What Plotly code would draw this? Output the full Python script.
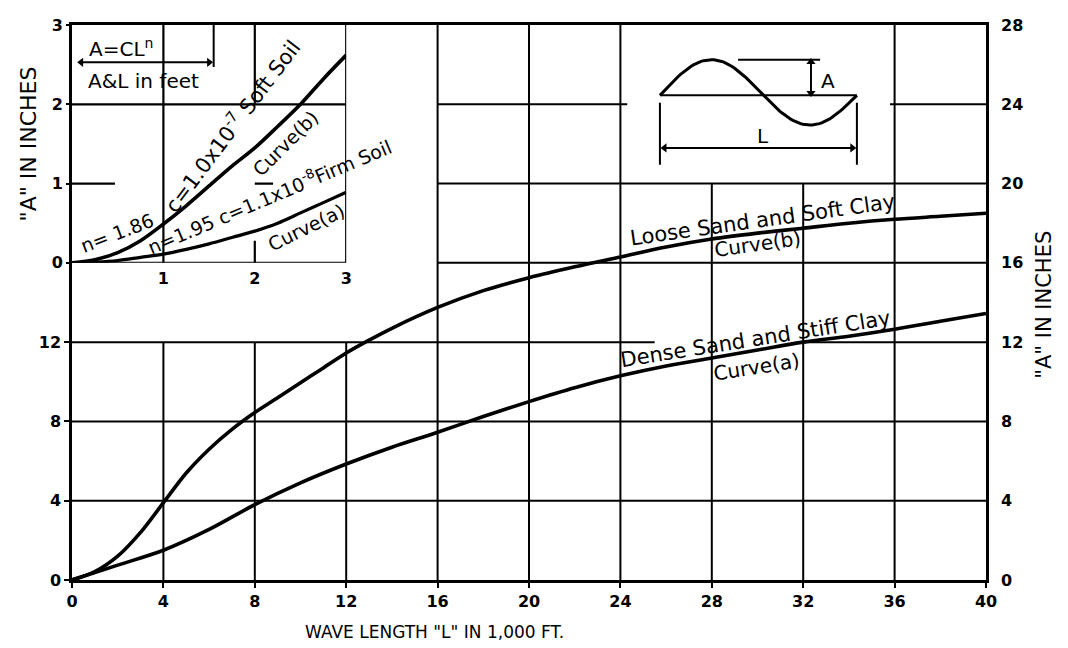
import numpy as np
import plotly.graph_objects as go

# ---------------- data ----------------
# Main chart: wave length L (1,000 ft) vs A (inches)
L_b = [0, 1, 2, 3, 4, 5, 6, 7, 8, 9, 10, 11, 12, 13, 14, 16, 18, 20, 22, 24, 26, 28, 30, 32, 34, 36, 38, 40]
A_b = [0, 0.42, 1.2, 2.4, 3.9, 5.4, 6.6, 7.6, 8.45, 9.2, 9.95, 10.7, 11.45, 12.1, 12.7, 13.75, 14.6, 15.25,
       15.8, 16.3, 16.8, 17.2, 17.5, 17.75, 18.0, 18.2, 18.35, 18.5]
L_a = [0, 2, 4, 6, 8, 10, 12, 14, 16, 18, 20, 22, 24, 26, 28, 30, 32, 34, 36, 38, 40]
A_a = [0, 0.75, 1.5, 2.55, 3.8, 4.9, 5.85, 6.7, 7.45, 8.25, 9.0, 9.7, 10.3, 10.8, 11.2, 11.6, 12.0, 12.3,
       12.65, 13.05, 13.45]

# Inset: small wave lengths (1,000 ft) vs A (inches)
inset_L = [0, 0.25, 0.5, 0.75, 1, 1.25, 1.5, 1.75, 2, 2.25, 2.5, 2.75, 3]
inset_A_b = [0, 0.04, 0.13, 0.28, 0.49, 0.72, 0.97, 1.22, 1.45, 1.72, 2.0, 2.32, 2.62]
inset_A_a = [0, 0.01, 0.03, 0.07, 0.11, 0.17, 0.24, 0.32, 0.40, 0.50, 0.63, 0.76, 0.89]

# Tick labels
x_ticks = list(range(0, 41, 4))
y_left_ticks = [0, 4, 8, 12]
y_right_ticks = list(range(0, 29, 4))
inset_x_ticks = [1, 2, 3]
inset_y_ticks = [0, 1, 2, 3]

FONT = "DejaVu Sans"
BLACK = "black"

fig = go.Figure()

curve_line = dict(color=BLACK, width=3.6, shape="spline", smoothing=0.9)
fig.add_trace(go.Scatter(x=L_b, y=A_b, mode="lines", line=curve_line, xaxis="x", yaxis="y",
                         name="Loose Sand and Soft Clay", hoverinfo="x+y"))
fig.add_trace(go.Scatter(x=L_a, y=A_a, mode="lines", line=curve_line, xaxis="x", yaxis="y3",
                         name="Dense Sand and Stiff Clay", hoverinfo="x+y"))
fig.add_trace(go.Scatter(x=inset_L, y=inset_A_b, mode="lines", line=curve_line, xaxis="x2", yaxis="y2",
                         name="Soft Soil", hoverinfo="x+y"))
fig.add_trace(go.Scatter(x=inset_L, y=inset_A_a, mode="lines",
                         line=dict(color=BLACK, width=3.2, shape="spline", smoothing=0.9),
                         xaxis="x2", yaxis="y2", name="Firm Soil", hoverinfo="x+y"))

# ---- wave schematic (upper right) ----
w_x0, w_xm, w_x1 = 25.73, 30.24, 34.35
w_base, w_up, w_dn = 24.45, 1.8, 1.5
t1 = np.linspace(0, 1, 41)
wx = np.concatenate([w_x0 + (w_xm - w_x0) * t1, w_xm + (w_x1 - w_xm) * t1[1:]])
wy = np.concatenate([w_base + w_up * np.sin(np.pi * t1), w_base - w_dn * np.sin(np.pi * t1[1:])])
fig.add_trace(go.Scatter(x=wx, y=wy, mode="lines", line=dict(color=BLACK, width=3), xaxis="x", yaxis="y",
                         hoverinfo="skip"))


def dim_line(xs, ys, symbols, xaxis="x", yaxis="y"):
    fig.add_trace(go.Scatter(x=xs, y=ys, mode="lines+markers", xaxis=xaxis, yaxis=yaxis, hoverinfo="skip",
                             line=dict(color=BLACK, width=2),
                             marker=dict(symbol=symbols, size=8, color=BLACK)))


dim_line([32.34, 32.34], [w_base + 0.12, w_base + w_up - 0.12], ["triangle-down", "triangle-up"])
dim_line([w_x0 + 0.2, w_x1 - 0.2], [21.8, 21.8], ["triangle-left", "triangle-right"])
dim_line([0.1, 1.5], [2.53, 2.53], ["triangle-left", "triangle-right"], "x2", "y2")

shapes = []


def seg(x0, y0, x1, y1, xref="x", yref="y", w=2, layer="below"):
    shapes.append(dict(type="line", x0=x0, y0=y0, x1=x1, y1=y1, xref=xref, yref=yref,
                       line=dict(color=BLACK, width=w), layer=layer))


# main grid (vertical): value -> list of (y0, y1)
v_grid = {4: [(0, 12)], 8: [(0, 12)], 12: [(0, 12)], 16: [(0, 28)], 20: [(0, 28)], 24: [(0, 28)],
          28: [(0, 20)], 32: [(0, 20)], 36: [(0, 28)]}
h_grid = {4: [(0, 40)], 8: [(0, 40)], 12: [(0, 25.5), (32, 40)], 16: [(16, 40)], 20: [(16, 40)],
          24: [(16, 24.3), (35.8, 40)]}
for xv, spans in v_grid.items():
    for a, b in spans:
        seg(xv, a, xv, b)
for yv, spans in h_grid.items():
    for a, b in spans:
        seg(a, yv, b, yv)

# inset grid and border
iv_grid = {1: [(0, 3)], 2: [(2, 3), (0, 0.28)], 3: [(0, 3)]}
ih_grid = {0: [(0, 3)], 1: [(0, 0.47), (2.0, 2.2)], 2: [(0, 3)]}
for xv, spans in iv_grid.items():
    for a, b in spans:
        seg(xv, a, xv, b, "x2", "y2", 2.2)
for yv, spans in ih_grid.items():
    for a, b in spans:
        seg(a, yv, b, yv, "x2", "y2", 2.2)
# formula box
seg(1.55, 2.47, 1.55, 3, "x2", "y2", 2)

# wave schematic lines
seg(w_x0, w_base, w_x1, w_base, w=2, layer="above")
seg(29.15, w_base + w_up, 32.74, w_base + w_up, w=2, layer="above")
seg(w_x0, 20.95, w_x0, 24.08, w=2, layer="above")
seg(w_x1, 20.95, w_x1, 24.08, w=2, layer="above")

annotations = []


def text(x, y, s, size=19, angle=0, xref="x", yref="y"):
    annotations.append(dict(x=x, y=y, xref=xref, yref=yref, text=s, showarrow=False, textangle=angle,
                            font=dict(family=FONT, size=size, color=BLACK), xanchor="center",
                            yanchor="middle"))


# wave schematic labels
text(33.1, 25.2, "A", 20)
text(30.24, 22.4, "L", 20)

# inset formula box
text(0.54, 2.71, "A=CL<sup>n</sup>", 20, 0, "x2", "y2")
text(0.78, 2.30, "A&L in feet", 20, 0, "x2", "y2")

# inset labels
text(0.49, 0.38, "n= 1.86", 19, -21, "x2", "y2")
text(1.74, 1.73, "c=1.0x10<sup>-7</sup> Soft Soil", 21, -53, "x2", "y2")
text(2.34, 1.51, "Curve(b)", 19, -45, "x2", "y2")
text(2.16, 0.84, "n=1.95 c=1.1x10<sup>-8</sup>Firm Soil", 19, -23, "x2", "y2")
text(2.57, 0.45, "Curve(a)", 19, -26, "x2", "y2")

# main labels
text(30.2, 18.15, "Loose Sand and Soft Clay", 21, -8)
text(30.0, 16.95, "Curve(b)", 20, -8)
text(29.9, 12.15, "Dense Sand and Stiff Clay", 21, -9)
text(29.95, 10.75, "Curve(a)", 20, -9)

# axis titles
text(0.397, -0.094, "WAVE LENGTH \"L\" IN 1,000 FT.", 17, 0, "paper", "paper")
text(-0.048, 0.785, "\"A\" IN INCHES", 22, -90, "paper", "paper")
text(1.064, 0.497, "\"A\" IN INCHES", 21, -90, "paper", "paper")

tickfont = dict(family=FONT, size=16, color=BLACK, weight="bold")

# page body adds an 8px margin: shrink the figure so the plot area sits where the reference's does
fig.update_layout(
    width=1060, height=640,
    margin=dict(l=64, r=82, t=8, b=68),
    paper_bgcolor="white", plot_bgcolor="white",
    showlegend=False,
    font=dict(family=FONT, color=BLACK),
    xaxis=dict(domain=[0, 1], range=[0, 40], tickvals=x_ticks, ticktext=[str(v) for v in x_ticks],
               showgrid=False, zeroline=False, showline=True, linewidth=2.5, linecolor=BLACK, mirror=True,
               ticks="outside", ticklen=5, tickwidth=2, tickcolor=BLACK, tickfont=tickfont, fixedrange=True),
    yaxis=dict(domain=[0, 1], range=[0, 28], tickvals=y_left_ticks, ticktext=[str(v) for v in y_left_ticks],
               showgrid=False, zeroline=False, showline=True, linewidth=2.5, linecolor=BLACK, mirror=True,
               ticks="outside", ticklen=5, tickwidth=2, tickcolor=BLACK, tickfont=tickfont, fixedrange=True),
    yaxis3=dict(overlaying="y", side="right", range=[0, 28], tickvals=y_right_ticks,
                ticktext=[str(v) for v in y_right_ticks], showgrid=False, zeroline=False, showline=False,
                ticks="", ticklabelstandoff=14, tickfont=tickfont, fixedrange=True),
    xaxis2=dict(domain=[0, 12 / 40], anchor="y2", range=[0, 3], tickvals=inset_x_ticks,
                ticktext=[str(v) for v in inset_x_ticks], showgrid=False, zeroline=False, showline=False,
                ticks="", ticklabelstandoff=4, tickfont=tickfont, fixedrange=True),
    yaxis2=dict(domain=[16 / 28, 1], anchor="x2", range=[0, 3], tickvals=inset_y_ticks,
                ticktext=[str(v) for v in inset_y_ticks], showgrid=False, zeroline=False, showline=False,
                ticks="outside", ticklen=5, tickwidth=2, tickcolor=BLACK, tickfont=tickfont, fixedrange=True),
    shapes=shapes,
    annotations=annotations,
)

fig.write_html("out.html")
